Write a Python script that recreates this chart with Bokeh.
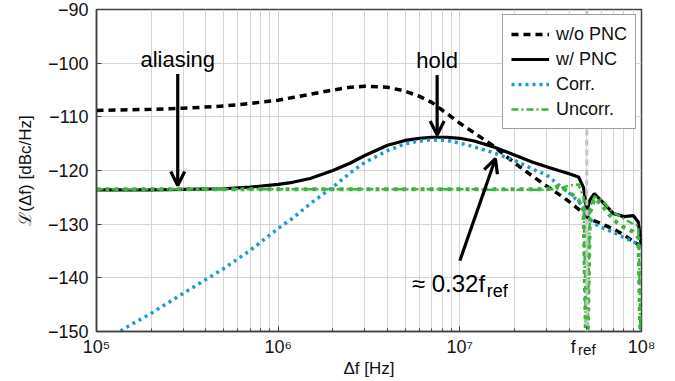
from bokeh.plotting import figure
from bokeh.models import (FixedTicker, Span, Label, Arrow, OpenHead, Legend, LegendItem, LogAxis)
from bokeh.embed import file_html
from bokeh.resources import INLINE

# ---------------- data ----------------
freq = [1e5, 1.5e5, 2e5, 3e5, 5e5, 7e5, 1e6, 1.2e6, 1.5e6, 2e6, 2.5e6, 3e6, 4e6, 5e6,
        6e6, 7e6, 8.5e6, 1e7, 1.2e7, 1.5e7, 2e7, 2.5e7, 3e7, 3.5e7, 4e7, 4.5e7, 4.8e7,
        5e7, 5.2e7, 5.5e7, 6e7, 7e7, 8e7, 9e7, 9.6e7, 1e8]

wo_pnc = [-108.8, -108.7, -108.6, -108.4, -108.0, -107.5, -106.9, -106.4, -105.8, -105.0,
          -104.5, -104.3, -104.5, -105.2, -106.2, -107.3, -109.4, -111.2, -113.0, -115.2,
          -118.6, -121.0, -122.9, -124.4, -125.8, -127.2, -128.0, -128.6, -129.0, -129.4,
          -129.9, -130.9, -132.0, -133.2, -133.8, -134.2]

w_pnc = [-123.6, -123.6, -123.6, -123.5, -123.4, -123.1, -122.6, -122.2, -121.5, -120.0,
         -118.6, -117.2, -115.3, -114.4, -114.0, -113.8, -113.8, -114.0, -114.5, -115.5,
         -117.1, -118.4, -119.3, -120.0, -120.6, -121.2, -123.2, -127.5, -125.5, -124.3,
         -125.6, -128.0, -128.6, -128.4, -129.6, -134.3]

corr = [-152.6, -149.0, -146.6, -142.9, -138.3, -134.9, -130.8, -128.9, -126.2, -123.1,
        -120.4, -118.5, -116.3, -115.0, -114.5, -114.3, -114.4, -114.9, -115.6, -116.6,
        -118.1, -119.7, -120.8, -122.7, -124.2, -125.8, -126.9, -127.9, -129.0, -129.9,
        -130.6, -131.5, -132.5, -133.2, -133.8, -134.5]

uncorr = [-123.5, -123.5, -123.5, -123.5, -123.5, -123.5, -123.5, -123.5, -123.5, -123.5,
          -123.5, -123.5, -123.5, -123.5, -123.5, -123.5, -123.5, -123.5, -123.5, -123.6,
          -123.6, -123.6, -123.6, -123.4, -122.8, -122.6, -125.0, -160.0, -127.0, -124.8,
          -125.5, -127.8, -129.0, -130.0, -130.3, -160.0]

uncorr_alias = [-123.5, -123.5, -123.5, -123.5, -123.5, -123.5, -123.5, -123.5, -123.5, -123.5,
                -123.5, -123.5, -123.5, -123.5, -123.5, -123.5, -123.5, -123.5, -123.5, -123.5,
                -123.5, -123.5, -123.5, -122.9, -124.0, -125.5, -127.5, -160.0, -128.0, -125.2,
                -126.3, -129.2, -130.6, -131.4, -132.5, -160.0]

series_names = ["w/o PNC", "w/ PNC", "Corr.", "Uncorr."]

f_ref = 5e7
x_ticks = [1e5, 1e6, 1e7, f_ref, 1e8]
x_tick_labels = ["10⁵", "10⁶", "10⁷", "f\u2002\u2002\u2002", "10⁸"]
x_grid_ticks = [1e5, 1e6, 1e7, 1e8]
x_minor = [m * 10 ** e for e in (5, 6, 7) for m in range(2, 10)]
y_ticks = [-150, -140, -130, -120, -110, -100, -90]
y_tick_labels = ["−150", "−140", "−130", "−120", "−110", "−100", "−90"]

alias_arrow = (2.8e5, -102.0, -122.8)
hold_arrow = (7.5e6, -102.2, -113.4)
frac_arrow = (1.0e7, -136.8, 1.57e7, -117.8)

FONT = "Liberation Sans"
FRAME = "#404040"
GRID = "#d4d4d4"
BLUE = "#1b9bcc"
GREEN = "#3db53d"
TXT = "#111111"

p = figure(width=675, height=381, x_axis_type="log", x_range=(1e5, 1e8), y_range=(-150, -90),
           output_backend="svg", toolbar_location=None,
           min_border_left=96, min_border_right=34, min_border_top=9, min_border_bottom=50)
p.background_fill_color = "white"
p.border_fill_color = "white"
p.outline_line_color = FRAME
p.outline_line_width = 1.5

xt = FixedTicker(ticks=x_ticks, minor_ticks=x_minor)
xgt = FixedTicker(ticks=x_grid_ticks, minor_ticks=x_minor)
yt = FixedTicker(ticks=y_ticks)

# axes
xa = p.xaxis[0]
xa.ticker = xt
xa.major_label_overrides = dict(zip(x_ticks, x_tick_labels))
ya = p.yaxis[0]
ya.ticker = yt
ya.major_label_overrides = dict(zip(y_ticks, y_tick_labels))
for ax in (xa, ya):
    ax.axis_line_color = FRAME
    ax.axis_line_width = 1.5
    ax.major_tick_line_color = FRAME
    ax.minor_tick_line_color = FRAME
    ax.major_tick_in = 5
    ax.major_tick_out = 0
    ax.minor_tick_in = 3
    ax.minor_tick_out = 0
    ax.major_label_text_font = FONT
    ax.major_label_text_font_size = "18px"
    ax.major_label_text_color = TXT
    ax.axis_label_text_font = FONT
    ax.axis_label_text_font_size = "17px"
    ax.axis_label_text_font_style = "normal"
    ax.axis_label_text_color = TXT
xa.major_label_standoff = 5
ya.major_label_standoff = 8
ya.axis_label = "ℒ(Δf) [dBc/Hz]"
ya.axis_label_standoff = 10

# second (label-only) axis: subscript of f_ref and the x-axis title
xa2 = LogAxis(ticker=FixedTicker(ticks=[f_ref]), major_label_overrides={f_ref: "ref"},
              major_label_text_font=FONT, major_label_text_font_size="15px",
              major_label_text_color=TXT, major_label_standoff=-19,
              major_tick_in=0, major_tick_out=0, minor_tick_in=0, minor_tick_out=0,
              axis_line_color=None, major_tick_line_color=None, minor_tick_line_color=None,
              axis_label="Δf [Hz]", axis_label_text_font=FONT, axis_label_text_font_size="17px",
              axis_label_text_font_style="normal", axis_label_text_color=TXT,
              axis_label_standoff=-2)
p.add_layout(xa2, "below")

# grids
p.xgrid.ticker = xgt
p.ygrid.ticker = yt
p.xgrid.grid_line_color = GRID
p.xgrid.minor_grid_line_color = GRID
p.ygrid.grid_line_color = GRID
p.xgrid.grid_line_width = 1
p.ygrid.grid_line_width = 1

# f_ref marker
p.add_layout(Span(location=f_ref, dimension="height", line_color="#c4c4c4", line_width=3,
                  line_dash="6 4"))

# curves
r1 = p.line(freq, wo_pnc, line_color="black", line_width=3.5, line_dash="7 5")
r2 = p.line(freq, w_pnc, line_color="black", line_width=3.2)
r3 = p.line(freq, corr, line_color=BLUE, line_width=3.5, line_dash="3 4")
r4 = p.line(freq, uncorr, line_color=GREEN, line_width=2.5, line_dash="7 3 2 3")
r5 = p.line(freq, uncorr_alias, line_color=GREEN, line_width=4, line_dash="4 5")

legend = Legend(items=[LegendItem(label=n, renderers=[r]) for n, r in zip(series_names, [r1, r2, r3, r4])],
                location="top_right")
legend.label_text_font = FONT
legend.label_text_font_size = "18px"
legend.label_text_color = TXT
legend.glyph_width = 38
legend.glyph_height = 22
legend.label_height = 22
legend.spacing = 3
legend.padding = 8
legend.margin = 5
legend.label_standoff = 7
legend.border_line_color = FRAME
legend.border_line_width = 1.2
legend.background_fill_alpha = 1
p.add_layout(legend, "center")

# annotations
ann = dict(text_font=FONT, text_color="black")
head = dict(size=14, line_width=3.2)
p.add_layout(Label(x=alias_arrow[0], y=alias_arrow[1], text="aliasing", text_align="center",
                   text_baseline="bottom", y_offset=2, text_font_size="22px", **ann))
p.add_layout(Arrow(x_start=alias_arrow[0], y_start=alias_arrow[1], x_end=alias_arrow[0],
                   y_end=alias_arrow[2], line_width=3.2, end=OpenHead(**head)))
p.add_layout(Label(x=hold_arrow[0], y=hold_arrow[1], text="hold", text_align="center",
                   text_baseline="bottom", y_offset=2, text_font_size="22px", **ann))
p.add_layout(Arrow(x_start=hold_arrow[0], y_start=hold_arrow[1], x_end=hold_arrow[0],
                   y_end=hold_arrow[2], line_width=3.2, end=OpenHead(**head)))
p.add_layout(Arrow(x_start=frac_arrow[0], y_start=frac_arrow[1], x_end=frac_arrow[2],
                   y_end=frac_arrow[3], line_width=3.2, end=OpenHead(**head)))
p.add_layout(Label(x=frac_arrow[0], y=frac_arrow[1], text="≈ 0.32f", text_align="left",
                   text_baseline="alphabetic", x_offset=-48, y_offset=-23, text_font_size="24px", **ann))
p.add_layout(Label(x=frac_arrow[0], y=frac_arrow[1], text="ref", text_align="left",
                   text_baseline="alphabetic", x_offset=27, y_offset=-30, text_font_size="18px", **ann))

open("out.html", "w").write(file_html(p, INLINE))
